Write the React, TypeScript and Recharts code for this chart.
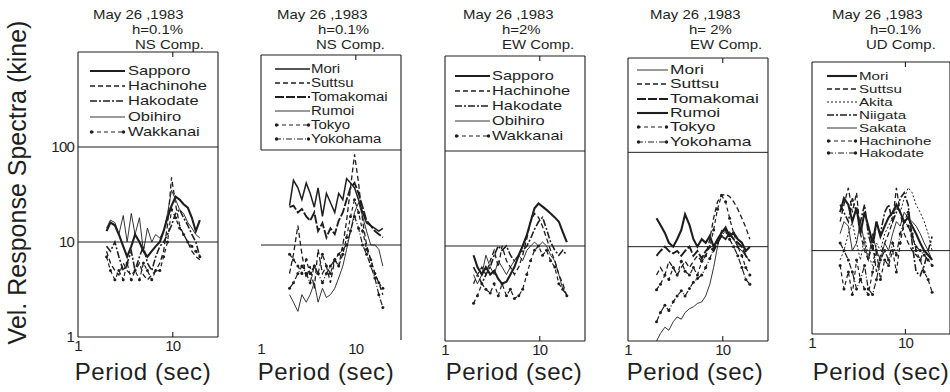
import React from 'react';
import { LineChart, Line, XAxis, YAxis, ReferenceLine } from 'recharts';

// ---------------- DATA ----------------
const periods = [2, 2.2, 2.45, 2.7, 3, 3.3, 3.65, 4, 4.45, 4.9, 5.4, 6, 6.6, 7.3, 8, 8.8, 9.7, 10.7, 11.8, 13, 14.4, 15.9, 17.5, 19.3];
const xTicks = [1, 10];
const yTicks = [1, 10, 100];

const p1Names = ['Sapporo', 'Hachinohe', 'Hakodate', 'Obihiro', 'Wakkanai'];
const p1Sapporo = [13, 16, 15, 12, 9, 7, 9, 12, 10, 8, 7, 8, 9, 10, 13, 18, 24, 30, 28, 25, 23, 18, 13, 17];
const p1Hachinohe = [8, 6, 5, 4.5, 6, 5, 4.5, 5, 6, 4.5, 4, 4.5, 5, 6, 8, 15, 48, 25, 15, 12, 10, 8, 7, 6.5];
const p1Hakodate = [9, 8, 10, 7, 5, 6, 8, 5, 7, 9, 6, 5, 7, 9, 10, 12, 15, 20, 22, 18, 15, 12, 10, 7];
const p1Obihiro = [14, 17, 16, 12, 19, 10, 20, 12, 18, 8, 14, 10, 12, 11, 13, 20, 35, 28, 22, 20, 16, 14, 12, 11];
const p1Wakkanai = [7, 5, 4, 5, 4, 6, 4, 5, 4, 6, 5, 4, 5, 5, 7, 10, 22, 18, 14, 12, 10, 9, 8, 7];

const p2Names = ['Mori', 'Suttsu', 'Tomakomai', 'Rumoi', 'Tokyo', 'Yokohama'];
const p2Mori = [26, 48, 40, 30, 45, 35, 25, 40, 20, 35, 28, 22, 35, 30, 50, 45, 40, 30, 22, 17, 16, 15, 14, 15];
const p2Suttsu = [5, 8, 16, 8, 4.5, 6, 3.5, 9, 5, 6, 4, 7, 6, 10, 18, 40, 90, 45, 18, 10, 7, 5, 4, 3];
const p2Tomakomai = [25, 26, 22, 24, 20, 18, 22, 14, 17, 12, 15, 13, 18, 22, 30, 40, 45, 35, 25, 18, 16, 14, 13, 12];
const p2Rumoi = [3, 2.5, 2, 3, 2.5, 3, 4, 2.5, 3.5, 2.8, 3, 3.5, 4.5, 6, 9, 14, 22, 28, 20, 14, 10, 10, 9, 6];
const p2Tokyo = [8, 7, 6, 5, 7, 5, 6, 5, 8, 6, 5, 7, 6, 8, 12, 20, 30, 22, 14, 9, 7, 5, 4, 3.5];
const p2Yokohama = [3.5, 4, 5, 6, 5, 4, 6, 5, 4, 5, 6, 7, 8, 9, 10, 14, 20, 15, 10, 8, 6, 4.5, 3, 2.2];

const p3Names = ['Sapporo', 'Hachinohe', 'Hakodate', 'Obihiro', 'Wakkanai'];
const p3Sapporo = [8, 6, 5, 6, 5, 5.5, 4.5, 4, 4.2, 5, 6, 8, 10, 13, 18, 25, 28, 26, 24, 22, 20, 18, 14, 11];
const p3Hachinohe = [4, 5, 6, 5, 7, 9, 6, 10, 7, 6, 5, 6, 8, 12, 18, 22, 20, 16, 12, 9, 7, 5, 4, 3];
const p3Hakodate = [6, 5, 4, 5, 6, 8, 10, 9, 10, 8, 7, 8, 9, 10, 12, 15, 18, 20, 15, 11, 9, 8, 9, 8];
const p3Obihiro = [5, 4, 5, 8, 6, 5, 7, 6, 5, 6, 7, 8, 7, 9, 10, 11, 10, 11, 10, 8, 7, 5, 3.5, 3];
const p3Wakkanai = [2.5, 3, 4, 3.5, 3.2, 4, 3, 4, 3, 3.5, 2.8, 3, 3.5, 5, 7, 9, 10, 8, 9, 7, 6, 4, 3.5, 3];

const p4Names = ['Mori', 'Suttsu', 'Tomakomai', 'Rumoi', 'Tokyo', 'Yokohama'];
const p4Mori = [1.0, 1.2, 1.4, 1.3, 1.6, 1.8, 1.7, 2, 2.2, 2.3, 2.5, 2.6, 3, 4, 6, 10, 15, 14, 13, 12, 10, 9, 8, 7];
const p4Suttsu = [5, 6, 5, 7, 6, 5, 6, 7, 6, 7, 8, 7, 8, 12, 20, 30, 35, 36, 34, 30, 25, 20, 16, 12];
const p4Tomakomai = [8, 9, 10, 9, 8.5, 9, 8, 9, 10, 8, 9, 7.5, 9, 10, 9, 11, 13, 12, 14, 12, 11, 10, 8, 7];
const p4Rumoi = [20, 17, 14, 11, 10, 12, 15, 22, 17, 12, 10, 12, 11, 13, 10, 12, 14, 16, 13, 14, 12, 11, 9, 10];
const p4Tokyo = [3.5, 4, 5, 4.5, 6, 5, 7, 5.5, 5, 6, 5, 7, 8, 10, 15, 25, 35, 30, 20, 14, 10, 8, 6, 5];
const p4Yokohama = [1.6, 2.0, 2.4, 2.1, 2.6, 3.0, 3.4, 3.0, 3.6, 4.2, 4.6, 5.0, 6.0, 7.5, 9.5, 11, 13, 15, 12, 10, 8, 6, 4.5, 4];

const p5Names = ['Mori', 'Suttsu', 'Akita', 'Niigata', 'Sakata', 'Hachinohe', 'Hakodate'];
const p5Mori = [25, 35, 30, 20, 28, 15, 25, 18, 12, 20, 14, 18, 22, 25, 30, 25, 20, 22, 18, 15, 12, 10, 9, 8];
const p5Suttsu = [20, 30, 45, 25, 40, 15, 10, 8, 12, 6, 9, 12, 15, 20, 45, 25, 15, 12, 10, 9, 8, 10, 9, 8];
const p5Akita = [8, 10, 15, 20, 12, 8, 14, 9, 7, 12, 10, 15, 18, 22, 28, 25, 35, 45, 40, 30, 25, 20, 15, 10];
const p5Niigata = [30, 25, 20, 35, 25, 20, 30, 15, 10, 20, 15, 25, 30, 20, 25, 35, 40, 30, 12, 6, 5.5, 7, 10, 14];
const p5Sakata = [15, 20, 18, 10, 12, 20, 12, 8, 15, 10, 8, 12, 10, 15, 20, 18, 25, 22, 20, 18, 15, 12, 10, 8];
const p5Hachinohe = [7, 4, 6, 3.5, 8, 5, 4, 3.5, 6, 10, 5, 8, 7, 10, 6, 12, 20, 25, 15, 10, 8, 6, 5, 3.7];
const p5Hakodate = [12, 10, 8, 6, 4, 5, 7, 4, 3.5, 5, 8, 10, 8, 12, 9, 15, 20, 18, 14, 11, 10, 9, 8, 7];

const titleDate = 'May 26 ,1983';
const titleDamping = ['h=0.1%', 'h=0.1%', 'h=2%', 'h= 2%', 'h=0.1%'];
const titleComp = ['NS Comp.', 'NS Comp.', 'EW Comp.', 'EW Comp.', 'UD Comp.'];
const yLabel = 'Vel. Response Spectra (kine)';
const xLabel = 'Period (sec)';

// ---------------- STYLES / LAYOUT ----------------
const FONT = "'Liberation Sans', Arial, Helvetica, sans-serif";
const INK = '#1e1e1e';

type St = { w: number; dash?: string; dot?: boolean };
const STYLES: Record<string, St> = {
  thick: { w: 2.1 },
  medium: { w: 1.5 },
  thin: { w: 0.9 },
  dash: { w: 1.3, dash: '5 3' },
  longdash: { w: 1.9, dash: '9 2' },
  dashdot: { w: 1.6, dash: '7 2 2 2' },
  dotted: { w: 1.0, dash: '2 2' },
  dotdash: { w: 1.2, dash: '4 3', dot: true },
  dotdashdot: { w: 1.2, dash: '6 2 1 2', dot: true },
};

const panels = [
  {
    names: p1Names, values: [p1Sapporo, p1Hachinohe, p1Hakodate, p1Obihiro, p1Wakkanai],
    styles: ['thick', 'dash', 'dashdot', 'thin', 'dotdash'],
  },
  {
    names: p2Names, values: [p2Mori, p2Suttsu, p2Tomakomai, p2Rumoi, p2Tokyo, p2Yokohama],
    styles: ['medium', 'dash', 'longdash', 'thin', 'dotdash', 'dotdashdot'],
  },
  {
    names: p3Names, values: [p3Sapporo, p3Hachinohe, p3Hakodate, p3Obihiro, p3Wakkanai],
    styles: ['thick', 'dash', 'dashdot', 'thin', 'dotdash'],
  },
  {
    names: p4Names, values: [p4Mori, p4Suttsu, p4Tomakomai, p4Rumoi, p4Tokyo, p4Yokohama],
    styles: ['thin', 'dash', 'longdash', 'thick', 'dotdash', 'dotdashdot'],
  },
  {
    names: p5Names, values: [p5Mori, p5Suttsu, p5Akita, p5Niigata, p5Sakata, p5Hachinohe, p5Hakodate],
    styles: ['thick', 'dash', 'dotted', 'dashdot', 'thin', 'dotdash', 'dotdashdot'],
  },
];

const layouts = [
  { left: 78, top: 52, w: 140, h: 285, xDom: [1, 30], yDom: [1, 1000], showY: true, line100: true,
    box: { top: true, right: true, bottom: true, left: true, leftTo: 1 },
    titles: [[93, 14], [132, 29], [135, 44]], periodX: 143,
    lg: { x0: 90, len: 35, gap: 3, y0: 71, dy: 15.2, fs: 13.3, sx: 1.24 } },
  { left: 261, top: 55, w: 140, h: 285, xDom: [1, 30], yDom: [1, 1000], showY: false, line100: true,
    box: { top: true, right: true, bottom: false, left: true, leftTo: 100 },
    titles: [[277, 14], [318, 29], [316, 44]], periodX: 326,
    lg: { x0: 275, len: 35, gap: 1, y0: 69, dy: 14.0, fs: 12.3, sx: 1.22 } },
  { left: 445, top: 56, w: 140, h: 285, xDom: [1, 30], yDom: [1, 1000], showY: false, line100: true,
    box: { top: true, right: true, bottom: true, left: true, leftTo: 1 },
    titles: [[463, 14], [502, 29], [502, 44]], periodX: 514,
    lg: { x0: 455, len: 35, gap: 2, y0: 76, dy: 15.0, fs: 13.2, sx: 1.24 } },
  { left: 628, top: 58, w: 140, h: 283, xDom: [1, 30], yDom: [1, 1000], showY: false, line100: true,
    box: { top: true, right: true, bottom: true, left: true, leftTo: 1 },
    titles: [[650, 14], [689, 29], [690, 44]], periodX: 695,
    lg: { x0: 637, len: 31, gap: 2, y0: 70, dy: 14.3, fs: 12.6, sx: 1.38 } },
  { left: 812, top: 62, w: 138, h: 272, xDom: [1, 30], yDom: [1.36, 912], showY: false, line100: false,
    box: { top: true, right: true, bottom: true, left: true, leftTo: 1.36 },
    titles: [[832, 14], [870, 29], [866, 44]], periodX: 881,
    lg: { x0: 827, len: 30, gap: 2, y0: 76, dy: 12.9, fs: 11.3, sx: 1.34 } },
];

const TITLE_FS = 13;
const TITLE_SX = 1.15;
const PERIOD_FS = 24;

function LegendSample({ st, len }: { st: St; len: number }) {
  return (
    <svg width={len} height={16} style={{ display: 'block', overflow: 'visible' }}>
      <line x1={0} y1={8} x2={len} y2={8} stroke={INK} strokeWidth={st.w} strokeDasharray={st.dash} />
      {st.dot ? <circle cx={1.5} cy={8} r={1.7} fill={INK} /> : null}
      {st.dot ? <circle cx={len - 1.5} cy={8} r={1.7} fill={INK} /> : null}
    </svg>
  );
}

function Panel({ idx }: { idx: number }) {
  const cfg = panels[idx];
  const lay = layouts[idx];
  const rows = periods.map((p, i) => {
    const r: Record<string, number> = { p };
    cfg.values.forEach((v, j) => { r['s' + j] = v[i]; });
    return r;
  });
  const yW = lay.showY ? 42 : 0;
  const ml = lay.showY ? 0 : 3;
  const mt = 3, mr = 3, xH = 22;
  const width = yW + ml + lay.w + mr;
  const height = mt + lay.h + xH;
  const [x0, x1] = lay.xDom;
  const [y0, y1] = lay.yDom;
  const tickLen = Math.pow(10, 5 / 95);
  const rl = { stroke: INK, strokeWidth: 1.1, ifOverflow: 'visible' as const };
  return (
    <div style={{ position: 'absolute', left: lay.left - yW - ml, top: lay.top - mt }}>
      <LineChart width={width} height={height} data={rows} margin={{ top: mt, right: mr, bottom: 0, left: ml }}>
        <XAxis type="number" dataKey="p" scale="log" domain={lay.xDom} allowDataOverflow ticks={xTicks} interval={0}
          axisLine={false} tickLine={false} tickSize={0} tickMargin={3} height={xH}
          tick={{ fontSize: 15, fill: INK, fontFamily: FONT, letterSpacing: -0.8 }} tickFormatter={(v: number) => String(v)} />
        <YAxis type="number" scale="log" domain={lay.yDom} allowDataOverflow hide={!lay.showY} ticks={yTicks} interval={0}
          width={yW} axisLine={false} tickLine={false} tickSize={0} tickMargin={4}
          tick={{ fontSize: 15, fill: INK, fontFamily: FONT, letterSpacing: -0.8 }} tickFormatter={(v: number) => String(v)} />
        <ReferenceLine y={10} stroke={INK} strokeWidth={1} />
        {lay.line100 ? <ReferenceLine y={100} stroke={INK} strokeWidth={1} /> : null}
        {lay.box.top ? <ReferenceLine segment={[{ x: x0, y: y1 }, { x: x1, y: y1 }]} {...rl} /> : null}
        {lay.box.bottom ? <ReferenceLine segment={[{ x: x0, y: y0 }, { x: x1, y: y0 }]} {...rl} /> : null}
        {lay.box.right ? <ReferenceLine segment={[{ x: x1, y: y0 }, { x: x1, y: y1 }]} {...rl} /> : null}
        {lay.box.left ? <ReferenceLine segment={[{ x: x0, y: lay.box.leftTo }, { x: x0, y: y1 }]} {...rl} /> : null}
        <ReferenceLine segment={[{ x: 10, y: y1 }, { x: 10, y: y1 / tickLen }]} {...rl} />
        {lay.box.bottom ? <ReferenceLine segment={[{ x: 10, y: y0 }, { x: 10, y: y0 * tickLen }]} {...rl} /> : null}
        {cfg.names.map((n, j) => {
          const st = STYLES[cfg.styles[j]];
          return (
            <Line key={n} type="linear" dataKey={'s' + j} name={n} stroke={INK} strokeWidth={st.w}
              strokeDasharray={st.dash} isAnimationActive={false}
              dot={st.dot ? { r: 1.5, fill: INK, stroke: 'none' } : false} activeDot={false} />
          );
        })}
      </LineChart>
    </div>
  );
}

function Texts({ idx }: { idx: number }) {
  const cfg = panels[idx];
  const lay = layouts[idx];
  const titles = [titleDate, titleDamping[idx], titleComp[idx]];
  return (
    <>
      {titles.map((t, i) => (
        <div key={'t' + i} style={{ position: 'absolute', left: lay.titles[i][0], top: lay.titles[i][1] - TITLE_FS / 2,
          fontFamily: FONT, fontSize: TITLE_FS, lineHeight: `${TITLE_FS}px`, color: INK, whiteSpace: 'pre',
          transform: `scaleX(${TITLE_SX})`, transformOrigin: 'left center' }}>{t}</div>
      ))}
      {cfg.names.map((n, i) => {
        const st = STYLES[cfg.styles[i]];
        const y = lay.lg.y0 + lay.lg.dy * i;
        return (
          <div key={'l' + n} style={{ position: 'absolute', left: lay.lg.x0, top: y - 8, height: 16, display: 'flex', alignItems: 'center', whiteSpace: 'nowrap' }}>
            <LegendSample st={st} len={lay.lg.len} />
            <span style={{ marginLeft: lay.lg.gap, fontFamily: FONT, fontSize: lay.lg.fs, lineHeight: '16px', color: INK,
              display: 'inline-block', transform: `scaleX(${lay.lg.sx})`, transformOrigin: 'left center' }}>{n}</span>
          </div>
        );
      })}
      <div style={{ position: 'absolute', left: lay.periodX - 80, width: 160, top: 359.5, textAlign: 'center',
        fontFamily: FONT, fontSize: PERIOD_FS, lineHeight: `${PERIOD_FS}px`, letterSpacing: 0.6, color: INK, whiteSpace: 'nowrap' }}>{xLabel}</div>
    </>
  );
}

export default function App() {
  return (
    <div style={{ position: 'absolute', left: 0, top: 0, width: 950, height: 392, background: '#fff', overflow: 'hidden' }}>
      {panels.map((_, i) => <Panel key={'p' + i} idx={i} />)}
      {panels.map((_, i) => <Texts key={'x' + i} idx={i} />)}
      <div style={{ position: 'absolute', left: 17 - 180, top: 182 - 12.5, width: 360, textAlign: 'center',
        transform: 'rotate(-90deg)', transformOrigin: 'center center', fontFamily: FONT, fontSize: 25,
        lineHeight: '25px', color: INK, whiteSpace: 'nowrap' }}>{yLabel}</div>
    </div>
  );
}
